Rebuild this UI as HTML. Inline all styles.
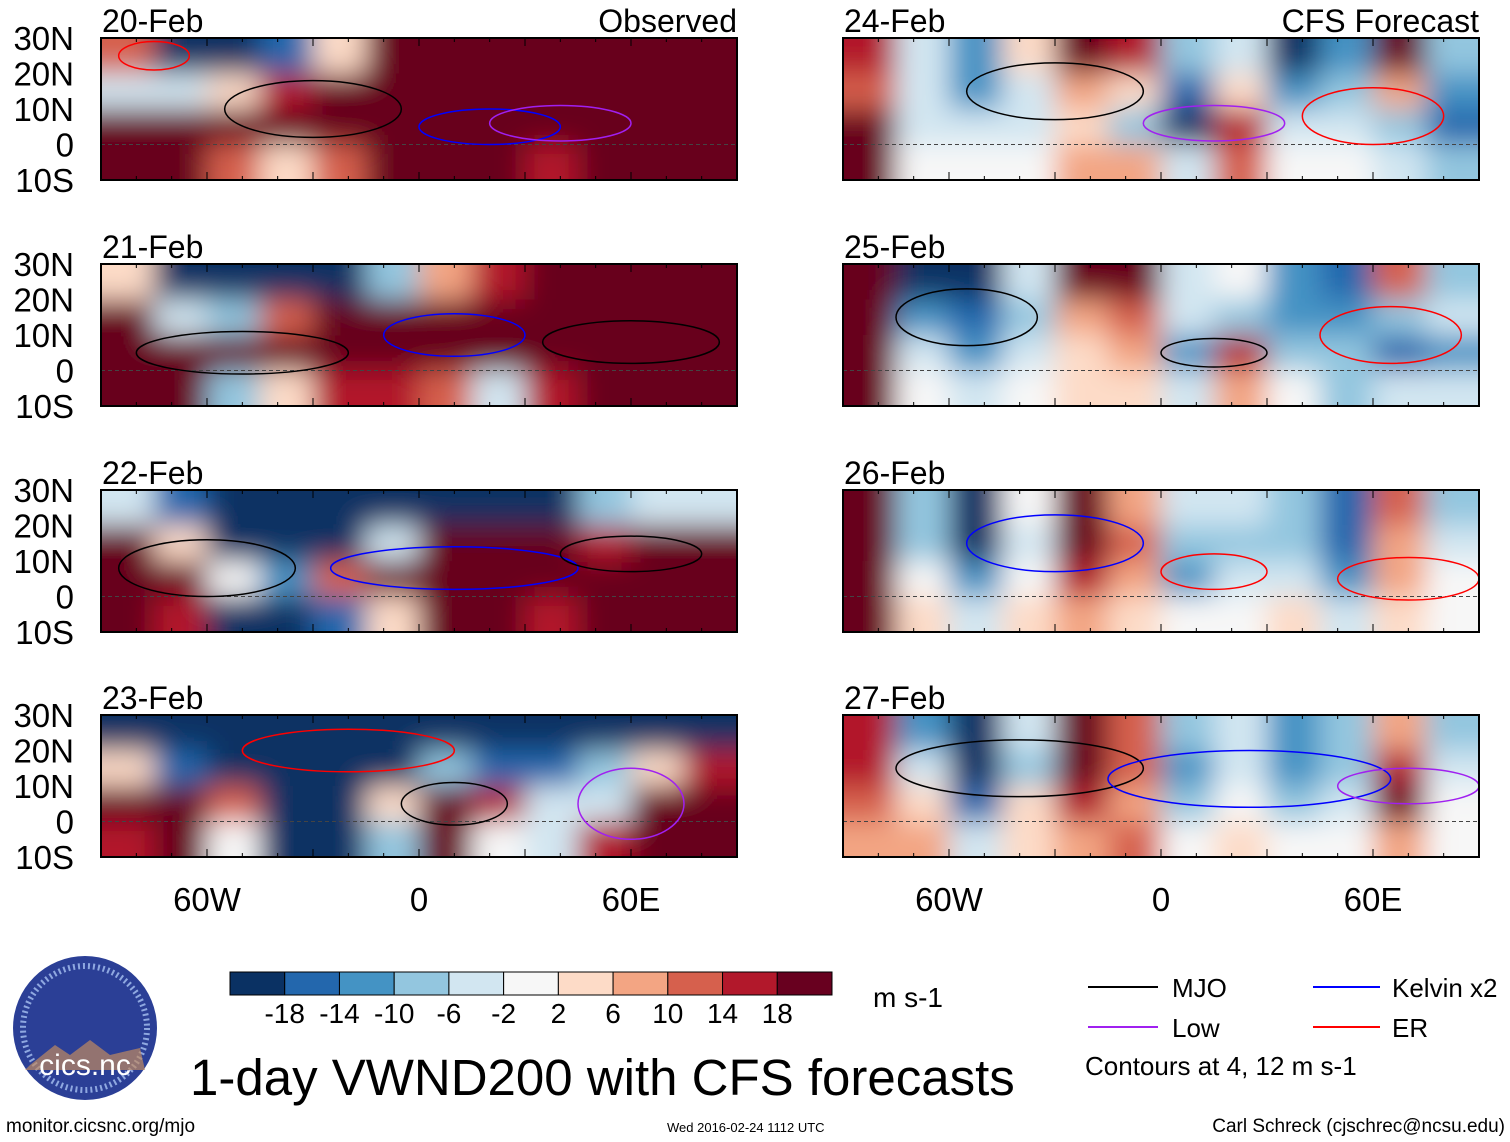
<!DOCTYPE html>
<html><head><meta charset="utf-8">
<style>
body{margin:0;background:#fff;}
svg{display:block;font-family:"Liberation Sans",sans-serif;}
</style></head>
<body>
<svg id="chart" width="1510" height="1142" viewBox="0 0 1510 1142" xmlns="http://www.w3.org/2000/svg">
<defs>
<filter id="blur" x="-10%" y="-30%" width="120%" height="160%"><feGaussianBlur stdDeviation="14"/></filter>
</defs>
<g id="panels"></g>
<g id="colorbar"></g>
<text x="873" y="1007" font-size="28">m s-1</text>
<g>
<line x1="1088" y1="987" x2="1158" y2="987" stroke="#000" stroke-width="2"/>
<text x="1172" y="997" font-size="26">MJO</text>
<line x1="1313" y1="987" x2="1380" y2="987" stroke="#0000ff" stroke-width="2"/>
<text x="1392" y="997" font-size="26">Kelvin x2</text>
<line x1="1088" y1="1027" x2="1158" y2="1027" stroke="#a020f0" stroke-width="2"/>
<text x="1172" y="1037" font-size="26">Low</text>
<line x1="1313" y1="1027" x2="1380" y2="1027" stroke="#ff0000" stroke-width="2"/>
<text x="1392" y="1037" font-size="26">ER</text>
<text x="1085" y="1075" font-size="26">Contours at 4, 12 m s-1</text>
</g>
<g>
<circle cx="85" cy="1028" r="72" fill="#2b3f96"/>
<circle cx="85" cy="1028" r="62" fill="none" stroke="#8fa8e0" stroke-width="6" stroke-dasharray="2,3"/>
<path d="M30 1065 L55 1045 L70 1055 L90 1040 L110 1055 L140 1048 L145 1070 L25 1070Z" fill="#c08a60" opacity="0.7"/>
<text x="85" y="1075" font-size="30" fill="#fff" text-anchor="middle">cics.nc</text>
</g>
<text x="190" y="1095" font-size="51">1-day VWND200 with CFS forecasts</text>
<text x="6" y="1132" font-size="19">monitor.cicsnc.org/mjo</text>
<text x="667" y="1132" font-size="13">Wed 2016-02-24 1112 UTC</text>
<text x="1505" y="1132" font-size="19" text-anchor="end">Carl Schreck (cjschrec@ncsu.edu)</text>
</svg>
<script>
const levels=[-18,-14,-10,-6,-2,2,6,10,14,18];
const colors=["#0a3163","#2367ad","#4493c4","#93c6df","#d2e6f1","#f7f7f7","#fddbc7","#f3a583","#d6604d","#b2182b","#68001f"];
const lonTicks=[-60,0,60];
const lonTickLabels=["60W","0","60E"];
const latTickLabels=["30N","20N","10N","0","10S"];
const panelTitles=["20-Feb","21-Feb","22-Feb","23-Feb","24-Feb","25-Feb","26-Feb","27-Feb"];
const p1=[[10,-20,-20,-15,5,20,22,22,22,22,22,22],[-5,-5,5,15,22,22,22,22,22,22,22,22],[20,22,20,22,22,22,22,22,22,22,22,22],[20,22,12,2,10,20,22,22,15,22,22,18]];
const p2=[[5,-20,-22,-22,-20,-10,8,15,22,22,22,22],[18,-5,-8,10,18,22,22,22,22,22,22,22],[22,22,22,22,22,22,22,22,22,22,22,22],[20,18,-10,5,15,15,10,-5,15,22,22,22]];
const p3=[[-5,-18,-22,-22,-22,-22,-22,-22,-20,-10,-5,-5],[18,5,-22,-22,-20,-5,20,22,22,15,18,20],[22,20,0,-12,10,22,22,22,22,22,22,22],[18,15,-20,-22,-15,5,22,20,15,22,22,22]];
const p4=[[-22,-22,-22,-22,-22,-22,-22,-22,-22,-22,-22,-22],[5,-15,-22,-22,-22,-22,-10,-15,-15,-10,5,15],[22,20,10,-22,-22,5,22,15,-5,-3,22,22],[15,22,0,-22,-22,-10,22,-2,-5,15,22,22]];
const p5=[[16,-6,-14,4,20,14,-10,-6,-20,-14,18,-8],[12,-4,-14,-6,8,2,-16,4,-14,-10,6,-12],[18,-4,-6,-4,4,-8,-20,14,-4,-6,-10,-16],[20,0,-2,0,6,6,-6,10,-2,-2,-6,-8]];
const p6=[[20,-20,-20,-6,18,18,-6,-2,-14,-18,12,-8],[20,-12,-18,-8,8,10,-6,-8,-12,-14,-10,-6],[20,-6,-14,-6,4,6,-12,14,-8,-8,-16,-12],[18,0,-6,0,4,4,-6,8,-2,-8,-6,-6]];
const p7=[[18,-8,-22,-2,20,8,-4,-6,-8,-18,10,-8],[20,-10,-22,-6,22,10,-8,-8,-8,-18,6,-6],[20,-2,-14,-2,16,6,-12,-6,-6,-12,8,-2],[18,2,-6,2,6,2,0,-2,2,-6,4,0]];
const p8=[[14,-14,-22,-6,18,10,-10,-6,-14,-8,6,-8],[16,-6,-22,-8,22,10,-14,-6,-14,-10,16,-6],[10,2,-16,4,16,8,-10,-2,-8,-6,18,-2],[8,6,-6,4,8,12,-2,2,-2,-2,8,0]];
const fields=[p1,p2,p3,p4,p5,p6,p7,p8];
const gridLons=[-90,-75,-60,-45,-30,-15,0,15,30,45,60,75];
const gridLats=[30,20,10,0];
// contours: [panel, lon, lat, lonRadius, latRadius, type]
const contours=[[0,-30,10,25,8,"k"],[0,20,5,20,5,"b"],[0,40,6,20,5,"p"],[0,-75,25,10,4,"r"],[1,-50,5,30,6,"k"],[1,10,10,20,6,"b"],[1,60,8,25,6,"k"],[2,-60,8,25,8,"k"],[2,10,8,35,6,"b"],[2,60,12,20,5,"k"],[3,10,5,15,6,"k"],[3,60,5,15,10,"p"],[3,-20,20,30,6,"r"],
[4,-30,15,25,8,"k"],[4,15,6,20,5,"p"],[4,60,8,20,8,"r"],[5,-55,15,20,8,"k"],[5,15,5,15,4,"k"],[5,65,10,20,8,"r"],[6,-30,15,25,8,"b"],[6,15,7,15,5,"r"],[6,70,5,20,6,"r"],[7,-40,15,35,8,"k"],[7,25,12,40,8,"b"],[7,70,10,20,5,"p"]];
const cmap={k:"#000",b:"#0000ff",p:"#a020f0",r:"#ff0000"};
const NS="http://www.w3.org/2000/svg";
function mk(tag,attrs,parent){const e=document.createElementNS(NS,tag);for(const k in attrs)e.setAttribute(k,attrs[k]);parent.appendChild(e);return e;}
function colorFor(v){let i=0;while(i<levels.length&&v>=levels[i])i++;return colors[i];}
const colX=[101,843],rowY=[38,264,490,715],PW=636,PH=142;
const root=document.getElementById('panels');
fields.forEach((f,pi)=>{
  const x0=colX[pi<4?0:1],y0=rowY[pi%4];
  const xs=lon=>x0+(lon+90)/180*PW;
  const ys=lat=>y0+(30-lat)/40*PH;
  const g=mk('g',{},root);
  
  
  const clip=mk('clipPath',{id:'clip'+pi},g);
  mk('rect',{x:x0,y:y0,width:PW,height:PH},clip);
  const cg=mk('g',{'clip-path':'url(#clip'+pi+')'},g);
  const hg=mk('g',{filter:'url(#blur)'},cg);
  f.forEach((row,ri)=>row.forEach((v,ci)=>{
    let x=xs(gridLons[ci]),w=PW/12,y=ys(gridLats[ri]),h=PH/4;
    if(ci===0){x-=40;w+=40;} if(ci===11){w+=40;}
    if(ri===0){y-=40;h+=40;} if(ri===3){h+=40;}
    const r=mk('rect',{x:x,y:y,width:w+0.5,height:h+0.5,fill:colorFor(v)},hg);
    
    
  }));
  mk('line',{x1:x0,y1:ys(0),x2:x0+PW,y2:ys(0),stroke:'#444','stroke-dasharray':'4,3','stroke-width':1},cg);
  contours.filter(c=>c[0]===pi).forEach(c=>{
    const e=mk('ellipse',{cx:xs(c[1]),cy:ys(c[2]),rx:c[3]/180*PW,ry:c[4]/40*PH,fill:'none',stroke:cmap[c[5]],'stroke-width':1.5},cg);
    
    
  });
  mk('rect',{x:x0,y:y0,width:PW,height:PH,fill:'none',stroke:'#000','stroke-width':2},g);
  for(let lon=-90;lon<=90;lon+=10){
    const L=lon%30===0?8:4;
    mk('line',{x1:xs(lon),y1:y0+PH,x2:xs(lon),y2:y0+PH-L,stroke:'#000'},g);
    mk('line',{x1:xs(lon),y1:y0,x2:xs(lon),y2:y0+L,stroke:'#000'},g);
  }
  if(pi<4){latTickLabels.forEach((t,i)=>{
    const tt=mk('text',{x:74,y:ys(30-i*10)+12,'font-size':33,'text-anchor':'end'},g);tt.textContent=t;
    
    
  });}
  const ti=mk('text',{x:x0+1,y:y0-6,'font-size':32},g);ti.textContent=panelTitles[pi];
  
  
  if(pi===0||pi===4){const s=mk('text',{x:x0+PW,y:y0-6,'font-size':32,'text-anchor':'end'},g);s.textContent=pi===0?'Observed':'CFS Forecast';
    
    }
  if(pi===3||pi===7){lonTicks.forEach((lon,i)=>{
    const t=mk('text',{x:xs(lon),y:911,'font-size':33,'text-anchor':'middle'},g);t.textContent=lonTickLabels[i];
    
    
  });}
});
const cb=document.getElementById('colorbar');
const bw=(832-230)/colors.length;
colors.forEach((c,i)=>{const r=mk('rect',{x:230+i*bw,y:972,width:bw,height:23,fill:c,stroke:'#000','stroke-width':1},cb);
  
  });
levels.forEach((l,i)=>{const t=mk('text',{x:230+(i+1)*bw,y:1023,'font-size':28,'text-anchor':'middle'},cb);t.textContent=l;
  
  });
</script>
</body></html>
